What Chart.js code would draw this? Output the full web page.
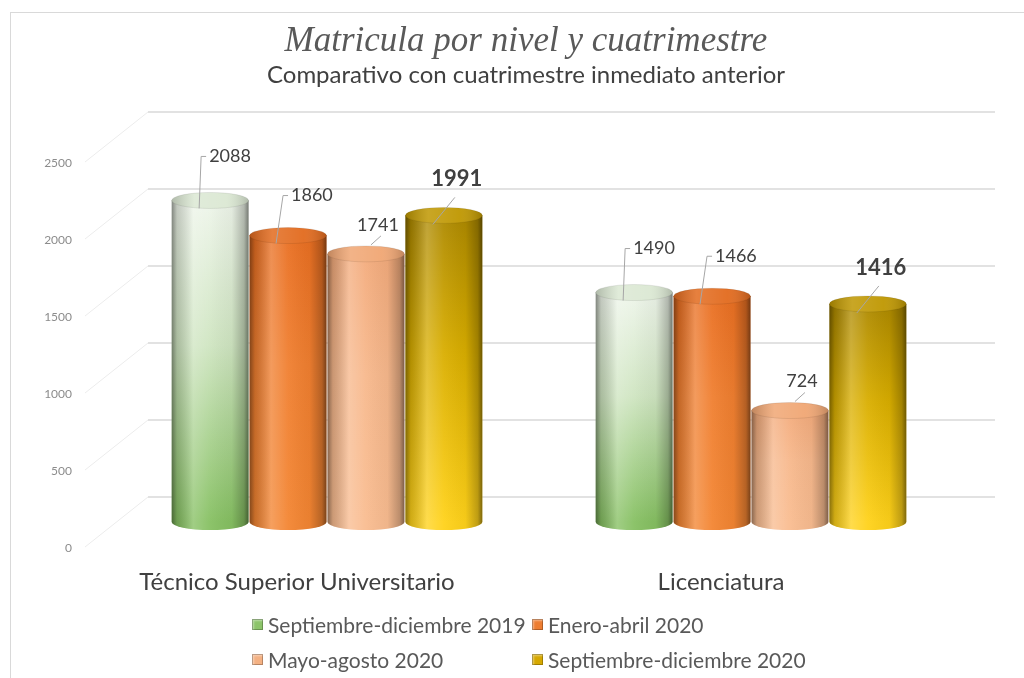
<!DOCTYPE html>
<html>
<head>
<meta charset="utf-8">
<script src="https://cdn.jsdelivr.net/npm/chart.js@4"></script>
<style>
  html, body { margin: 0; padding: 0; background: #fff; }
  #wrap { position: relative; width: 1024px; height: 678px; overflow: hidden; }
  #frame { position: absolute; left: 10px; top: 12px; width: 1100px; height: 800px; border: 1px solid #d9d9d9; }
  #chart { position: absolute; left: 0; top: 0; }
  #legend { position: absolute; left: 252px; top: 612px; display: grid; grid-template-columns: 280px auto; row-gap: 11px;
            font-family: Lato, "Open Sans", sans-serif; font-size: 21px; color: #595959; }
  #legend .item { display: flex; align-items: center; height: 24px; white-space: nowrap; }
  #legend .box { width: 11px; height: 11px; margin-right: 5px; box-shadow: inset 0 0 0 1px rgba(0,0,0,0.25), inset 2px 2px 2px rgba(255,255,255,0.4); }
</style>
</head>
<body>
<div id="wrap">
  <div id="frame"></div>
  <canvas id="chart" width="1024" height="678"></canvas>
  <div id="legend"></div>
</div>
<script>
const categories = ["Técnico Superior Universitario", "Licenciatura"];
const seriesNames = ["Septiembre-diciembre 2019", "Enero-abril 2020", "Mayo-agosto 2020", "Septiembre-diciembre 2020"];
const sepDic2019 = [2088, 1490];
const eneAbr2020 = [1860, 1466];
const mayAgo2020 = [1741, 724];
const sepDic2020 = [1991, 1416];
const yTicks = [0, 500, 1000, 1500, 2000, 2500];

// cylinder looks: vertical gradient stops (top -> bottom) and cap colour
const looks = [
  { body: ["#eef5ea", "#cfe5c1", "#86c062"], cap: "#dbe8d3", legend: "#8cc46a" },
  { body: ["#e96f22", "#f07f30", "#f38532"], cap: "#e26a1d", legend: "#ed7d31" },
  { body: ["#f3ab7c", "#f7b88c", "#f9bc90"], cap: "#f0a673", legend: "#f4b183" },
  { body: ["#ad8900", "#d9ae00", "#ffd21a"], cap: "#bf9700", legend: "#d6a800" }
];
// data label placement per series, relative to the top of each cylinder
const labelStyles = [
  { kind: "tick", lx0: -11, ly0: 8, lx1: -9, ly1: -44, tx: -1, ty: -44, bold: false },
  { kind: "tick", lx0: -12, ly0: 8, lx1: -5, ly1: -40, tx: 3, ty: -40, bold: false },
  { kind: "slant", lx0: 5, ly0: -9, lx1: 15, ly1: -18, tx: 12, ty: -29, bold: false },
  { kind: "slant", lx0: -11, ly0: 9, lx1: 11, ly1: -18, tx: 13, ty: -36, bold: true }
];

const allSeries = [sepDic2019, eneAbr2020, mayAgo2020, sepDic2020];

function drawCylinder(ctx, x, top, base, w, look) {
  const l = x - w / 2, r = x + w / 2, rx = w / 2, ry = 8;
  const path = new Path2D();
  path.moveTo(l, top);
  path.lineTo(l, base);
  path.ellipse(x, base, rx, ry, 0, Math.PI, 0, true);
  path.lineTo(r, top);
  path.closePath();

  const vg = ctx.createLinearGradient(0, top, 0, base);
  vg.addColorStop(0, look.body[0]);
  vg.addColorStop(0.45, look.body[1]);
  vg.addColorStop(1, look.body[2]);
  ctx.fillStyle = vg;
  ctx.fill(path);

  const hg = ctx.createLinearGradient(l, 0, r, 0);
  hg.addColorStop(0, "rgba(0,0,0,0.45)");
  hg.addColorStop(0.07, "rgba(0,0,0,0.18)");
  hg.addColorStop(0.28, "rgba(255,255,255,0.22)");
  hg.addColorStop(0.5, "rgba(255,255,255,0.05)");
  hg.addColorStop(0.78, "rgba(0,0,0,0.04)");
  hg.addColorStop(0.94, "rgba(0,0,0,0.25)");
  hg.addColorStop(1, "rgba(0,0,0,0.5)");
  ctx.fillStyle = hg;
  ctx.fill(path);

  // top cap
  ctx.beginPath();
  ctx.ellipse(x, top, rx, ry, 0, 0, Math.PI * 2);
  ctx.fillStyle = look.cap;
  ctx.fill();
  const cg = ctx.createLinearGradient(l, 0, r, 0);
  cg.addColorStop(0, "rgba(0,0,0,0.2)");
  cg.addColorStop(0.3, "rgba(255,255,255,0.15)");
  cg.addColorStop(0.7, "rgba(255,255,255,0.05)");
  cg.addColorStop(1, "rgba(0,0,0,0.2)");
  ctx.fillStyle = cg;
  ctx.fill();
  ctx.strokeStyle = "rgba(0,0,0,0.08)";
  ctx.lineWidth = 1;
  ctx.stroke();
}

const backGrid = {
  id: "backGrid",
  beforeDatasetsDraw(chart) {
    const { ctx, chartArea, scales } = chart;
    ctx.save();
    yTicks.forEach(v => {
      const py = scales.y.getPixelForValue(v);
      ctx.strokeStyle = "#d9d9d9";
      ctx.lineWidth = 1.3;
      ctx.beginPath();
      ctx.moveTo(chartArea.left + 33, py - 25);
      ctx.lineTo(chartArea.right + 32, py - 25);
      ctx.stroke();
      ctx.strokeStyle = "#ececec";
      ctx.lineWidth = 1;
      ctx.beginPath();
      ctx.moveTo(chartArea.left - 30, py + 25);
      ctx.lineTo(chartArea.left + 33, py - 25);
      ctx.stroke();
    });
    ctx.restore();
  }
};

const cylinders = {
  id: "cylinders",
  afterDatasetsDraw(chart) {
    const ctx = chart.ctx;
    ctx.save();
    chart.data.datasets.forEach((ds, i) => {
      chart.getDatasetMeta(i).data.forEach(bar => {
        drawCylinder(ctx, bar.x, bar.y, bar.base, bar.width - 1, looks[i]);
      });
    });
    // data labels with leader lines
    chart.data.datasets.forEach((ds, i) => {
      const st = labelStyles[i];
      chart.getDatasetMeta(i).data.forEach((bar, j) => {
        const x = bar.x, t = bar.y;
        ctx.strokeStyle = "#a6a6a6";
        ctx.lineWidth = 1;
        ctx.beginPath();
        ctx.moveTo(x + st.lx0, t + st.ly0);
        ctx.lineTo(x + st.lx1, t + st.ly1);
        if (st.kind === "tick") ctx.lineTo(x + st.tx - 3, t + st.ty);
        ctx.stroke();
        ctx.fillStyle = "#404040";
        ctx.font = st.bold ? "bold 22px Lato, 'Open Sans', sans-serif" : "18px Lato, 'Open Sans', sans-serif";
        ctx.textBaseline = "middle";
        ctx.textAlign = st.kind === "tick" ? "left" : "center";
        ctx.fillText(String(ds.data[j]), x + st.tx, t + st.ty);
      });
    });
    ctx.restore();
  }
};

new Chart(document.getElementById("chart"), {
  type: "bar",
  data: {
    labels: categories,
    datasets: allSeries.map((vals, i) => ({
      label: seriesNames[i],
      data: vals,
      backgroundColor: "rgba(0,0,0,0)",
      borderWidth: 0,
      categoryPercentage: 0.735,
      barPercentage: 1.0
    }))
  },
  options: {
    responsive: false,
    animation: false,
    layout: { padding: { left: 28, right: 0, top: 0, bottom: 76 } },
    plugins: {
      legend: { display: false },
      tooltip: { enabled: false },
      title: {
        display: true,
        text: "Matricula por nivel y cuatrimestre",
        color: "#595959",
        font: { family: "'Liberation Serif', serif", style: "italic", size: 35, weight: "normal", lineHeight: 1.2 },
        padding: { top: 21, bottom: 0 }
      },
      subtitle: {
        display: true,
        text: "Comparativo con cuatrimestre inmediato anterior",
        color: "#404040",
        font: { family: "Lato, 'Open Sans', sans-serif", size: 24, lineHeight: 1.0 },
        padding: { top: 0, bottom: 50 }
      }
    },
    scales: {
      x: {
        grid: { display: false, drawTicks: false },
        border: { display: false },
        ticks: { color: "#404040", font: { family: "Lato, 'Open Sans', sans-serif", size: 24 }, padding: 46, labelOffset: -30 },
        afterFit(scale) { scale.height = 80; }
      },
      y: {
        min: 0, max: 2500,
        grid: { display: false, drawTicks: false },
        border: { display: false },
        ticks: { stepSize: 500, color: "#8c8c8c", font: { family: "Lato, 'Open Sans', sans-serif", size: 12 }, padding: 43, labelOffset: 26,
                 callback: v => String(v) },
        afterFit(scale) { scale.width = 87; }
      },
      yRight: {
        position: "right",
        display: true,
        grid: { display: false, drawTicks: false },
        border: { display: false },
        ticks: { display: false },
        afterFit(scale) { scale.width = 61; }
      }
    }
  },
  plugins: [backGrid, cylinders]
});

// legend in two columns, as in the original
const legendEl = document.getElementById("legend");
seriesNames.forEach((name, i) => {
  const item = document.createElement("div");
  item.className = "item";
  const box = document.createElement("span");
  box.className = "box";
  box.style.background = looks[i].legend;
  item.appendChild(box);
  item.appendChild(document.createTextNode(name));
  legendEl.appendChild(item);
});
</script>
</body>
</html>
